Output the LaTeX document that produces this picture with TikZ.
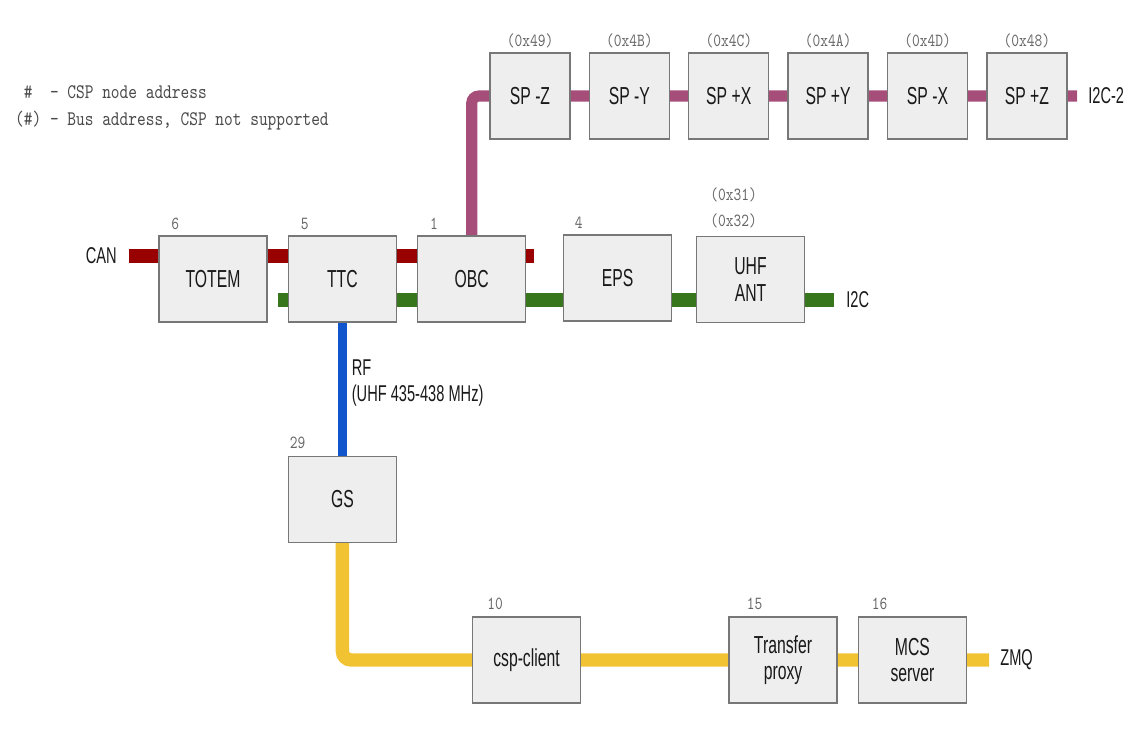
\documentclass[tikz,border=0pt]{standalone}
\usepackage{fontspec}
\setmainfont{Liberation Sans}[FakeStretch=0.64]
\newfontfamily\addrfont{lmmono10-regular.otf}[FakeStretch=0.8]
\usepackage{xcolor}
\usepackage{tikz}
\usetikzlibrary{positioning, backgrounds}
\definecolor{boxfill}{HTML}{EEEEEE}
\definecolor{boxedge}{HTML}{777777}
\definecolor{canred}{HTML}{990000}
\definecolor{i2cgreen}{HTML}{38761D}
\definecolor{i2cpink}{HTML}{A64D79}
\definecolor{rfblue}{HTML}{1155CC}
\definecolor{zmqyellow}{HTML}{F1C232}
\definecolor{addrgray}{HTML}{666666}
\definecolor{legendgray}{HTML}{4A4A4A}
\tikzset{
  unitbox/.style={draw=boxedge, fill=boxfill, line width=0.8pt, align=center,
                  font=\fontsize{14}{15}\selectfont, text=black!90,
                  minimum width=2.16cm, minimum height=1.72cm, inner sep=2pt},
  panelbox/.style={unitbox, minimum width=1.6cm},
  addr/.style={font=\addrfont\fontsize{10.5}{13}\selectfont, text=addrgray, inner sep=1pt},
  legendtext/.style={font=\addrfont\fontsize{11.8}{15.4}\selectfont, text=legendgray, align=left},
  buslabel/.style={font=\fontsize{13}{14.5}\selectfont, text=black!90, inner sep=2pt},
  canbus/.style={draw=canred, line width=8pt},
  i2cbus/.style={draw=i2cgreen, line width=8pt},
  i2ctwobus/.style={draw=i2cpink, line width=6.3pt, rounded corners=4pt},
  rfbus/.style={draw=rfblue, line width=5.1pt},
  zmqbus/.style={draw=zmqyellow, line width=7.6pt, rounded corners=5pt}
}
\begin{document}
\begin{tikzpicture}[x=0.02cm, y=-0.02cm]
\useasboundingbox (0,0) rectangle (1136,754);

% Legend
\node[legendtext, anchor=north west] (legend) at (9,78)
  {\phantom{(}\#\phantom{)} - CSP node address\\(\#) - Bus address, CSP not supported};

% Satellite bus units
\node[unitbox] (totem) at (213,279) {TOTEM};
\node[unitbox, right=0.4cm of totem] (ttc) {TTC};
\node[unitbox, right=0.4cm of ttc] (obc) {OBC};
\node[unitbox] (eps) at (617.5,278) {EPS};
\node[unitbox] (uhfant) at (750.5,279.5) {UHF\\ANT};

% Solar panels (top row)
\node[panelbox] (spmz) at (530,96) {SP -Z};
\node[panelbox, right=0.36cm of spmz] (spmy) {SP -Y};
\node[panelbox, right=0.36cm of spmy] (sppx) {SP +X};
\node[panelbox, right=0.36cm of sppx] (sppy) {SP +Y};
\node[panelbox, right=0.36cm of sppy] (spmx) {SP -X};
\node[panelbox, right=0.36cm of spmx] (sppz) {SP +Z};

% Ground segment
\node[unitbox, below=2.66cm of ttc] (gs) {GS};
\node[unitbox] (cspclient) at (526.5,660) {csp-client};
\node[unitbox] (transfer) at (783,660) {Transfer\\proxy};
\node[unitbox, right=0.4cm of transfer] (mcs) {MCS\\server};

% Addresses
\node[addr, above right=0.08cm and 0.22cm of totem.north west] (totem-addr) {6};
\node[addr, above right=0.08cm and 0.22cm of ttc.north west] (ttc-addr) {5};
\node[addr, above right=0.08cm and 0.22cm of obc.north west] (obc-addr) {1};
\node[addr, above right=0.08cm and 0.2cm of eps.north west] (eps-addr) {4};
\node[addr, above right=0.12cm and 0.25cm of uhfant.north west] (uhfant-addrb) {(0x32)};
\node[addr, above=0.14cm of uhfant-addrb] (uhfant-addra) {(0x31)};
\node[addr, above right=0.1cm and 0cm of gs.north west] (gs-addr) {29};
\node[addr, above right=0.1cm and 0.27cm of cspclient.north west] (cspclient-addr) {10};
\node[addr, above right=0.1cm and 0.33cm of transfer.north west] (transfer-addr) {15};
\node[addr, above right=0.1cm and 0.24cm of mcs.north west] (mcs-addr) {16};
\node[addr, above=0.04cm of spmz] (spmz-addr) {(0x49)};
\node[addr, above=0.04cm of spmy] (spmy-addr) {(0x4B)};
\node[addr, above=0.04cm of sppx] (sppx-addr) {(0x4C)};
\node[addr, above=0.04cm of sppy] (sppy-addr) {(0x4A)};
\node[addr, above=0.04cm of spmx] (spmx-addr) {(0x4D)};
\node[addr, above=0.04cm of sppz] (sppz-addr) {(0x48)};

% Bus ends
\coordinate (can-w) at (129,256);
\coordinate (can-e) at (534,256);
\coordinate (i2c-w) at (278,300);
\coordinate (i2c-e) at (834,300);
\coordinate (i2ctwo-e) at (1077,96);
\coordinate (zmq-e) at (989,660);

% Bus labels
\node[buslabel, left=0.17cm of can-w] (can-lbl) {CAN};
\node[buslabel, right=0.17cm of i2c-e] (i2c-lbl) {I2C};
\node[buslabel, right=0.15cm of i2ctwo-e] (i2ctwo-lbl) {I2C-2};
\node[buslabel, right=0.15cm of zmq-e] (zmq-lbl) {ZMQ};
\node[buslabel, align=left, anchor=north west] (rf-lbl) at (348,356) {RF\\(UHF 435-438 MHz)};

% Buses
\begin{scope}[on background layer]
  \draw[canbus] (can-w) -- (can-e);
  \draw[i2cbus] (i2c-w) -- (i2c-e);
  \draw[i2ctwobus] (obc.north) |- (i2ctwo-e);
  \draw[rfbus] (ttc.south) -- (gs.north);
  \draw[zmqbus] (gs.south) |- (zmq-e);
\end{scope}

\end{tikzpicture}
\end{document}
